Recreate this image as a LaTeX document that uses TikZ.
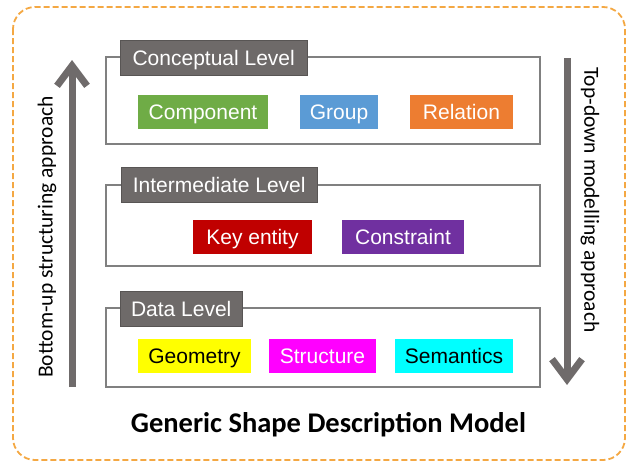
\documentclass[tikz,border=0pt]{standalone}
\usepackage{fontspec}
\setmainfont{Liberation Sans}
\newfontfamily\arialfont{Liberation Sans}
\newfontfamily\calibri{Carlito}
\usetikzlibrary{arrows.meta}
\definecolor{titlegray}{HTML}{6E6A69}
\definecolor{arrowgray}{HTML}{6F6B6B}
\definecolor{framegray}{HTML}{808080}
\definecolor{dashorange}{HTML}{F4A843}
\definecolor{compgreen}{HTML}{6FAC46}
\definecolor{groupblue}{HTML}{5B9BD5}
\definecolor{relorange}{HTML}{ED7D31}
\definecolor{keyred}{HTML}{C00000}
\definecolor{conpurple}{HTML}{7030A0}
\definecolor{geoyellow}{HTML}{FFFF00}
\definecolor{strmagenta}{HTML}{FF00FF}
\definecolor{semcyan}{HTML}{00FFFF}
\begin{document}
\begin{tikzpicture}[x=1pt,y=-1pt,
    levelbox/.style={draw=framegray,line width=1.3pt},
    leveltitle/.style={draw=titlegray!80!black,fill=titlegray,text=white,font=\arialfont\fontsize{21}{21}\selectfont,minimum height=35pt,inner sep=0pt,text height=15pt,text depth=0pt,anchor=west},
    item/.style={minimum height=34pt,inner sep=0pt,text height=15pt,text depth=0pt,font=\arialfont\fontsize{21}{21}\selectfont},
    bigarrow/.style={arrowgray,line width=7pt,-{Straight Barb[length=20pt,width=30pt]}},
    sidetext/.style={font=\calibri\fontsize{21.5}{21.5}\selectfont,rotate=90}]
  \useasboundingbox (0,0) rectangle (631,463);
  \draw[dashorange,line width=1.8pt,dash pattern=on 6pt off 3pt,rounded corners=22pt] (13,7) rectangle (625,460);

  \draw[levelbox] (106,57) rectangle (540,144);
  \draw[levelbox] (106,185) rectangle (540,266);
  \draw[levelbox] (106,308) rectangle (540,387);

  \node[leveltitle,minimum width=187pt] (concept) at (120,57.5) {Conceptual Level};
  \node[leveltitle,minimum width=196pt] (inter) at (121,184.5) {Intermediate Level};
  \node[leveltitle,minimum width=122pt] (data) at (120,309) {Data Level};

  % conceptual level
  \node[item,fill=compgreen,text=white,minimum width=130pt] (component) at (203,112) {Component};
  \node[item,fill=groupblue,text=white,minimum width=78pt] (group) at (339,112) {Group};
  \node[item,fill=relorange,text=white,minimum width=103pt] (relation) at (461.5,112) {Relation};

  % intermediate level
  \node[item,fill=keyred,text=white,minimum width=119pt] (keyentity) at (252.5,236.5) {Key entity};
  \node[item,fill=conpurple,text=white,minimum width=122pt] (constraint) at (403,236.5) {Constraint};

  % data level
  \node[item,fill=geoyellow,text=black,minimum width=113pt] (geometry) at (194.5,356) {Geometry};
  \node[item,fill=strmagenta,text=white,minimum width=107pt] (structure) at (322.5,356) {Structure};
  \node[item,fill=semcyan,text=black,minimum width=118pt] (semantics) at (454,356) {Semantics};

  \coordinate (upbottom) at (72,387);
  \coordinate (uptop) at (72,60);
  \coordinate (downtop) at (567,58);
  \coordinate (downbottom) at (567,385);
  \draw[bigarrow] (upbottom) -- (uptop);
  \draw[bigarrow] (downtop) -- (downbottom);

  \node[sidetext] (bottomup) at (47,237) {Bottom-up structuring approach};
  \node[sidetext,rotate=180] (topdown) at (590,200) {Top-down modelling approach};

  \node[font=\calibri\bfseries\fontsize{28.5}{28.5}\selectfont] (model) at (328.5,425) {Generic Shape Description Model};
\end{tikzpicture}
\end{document}
